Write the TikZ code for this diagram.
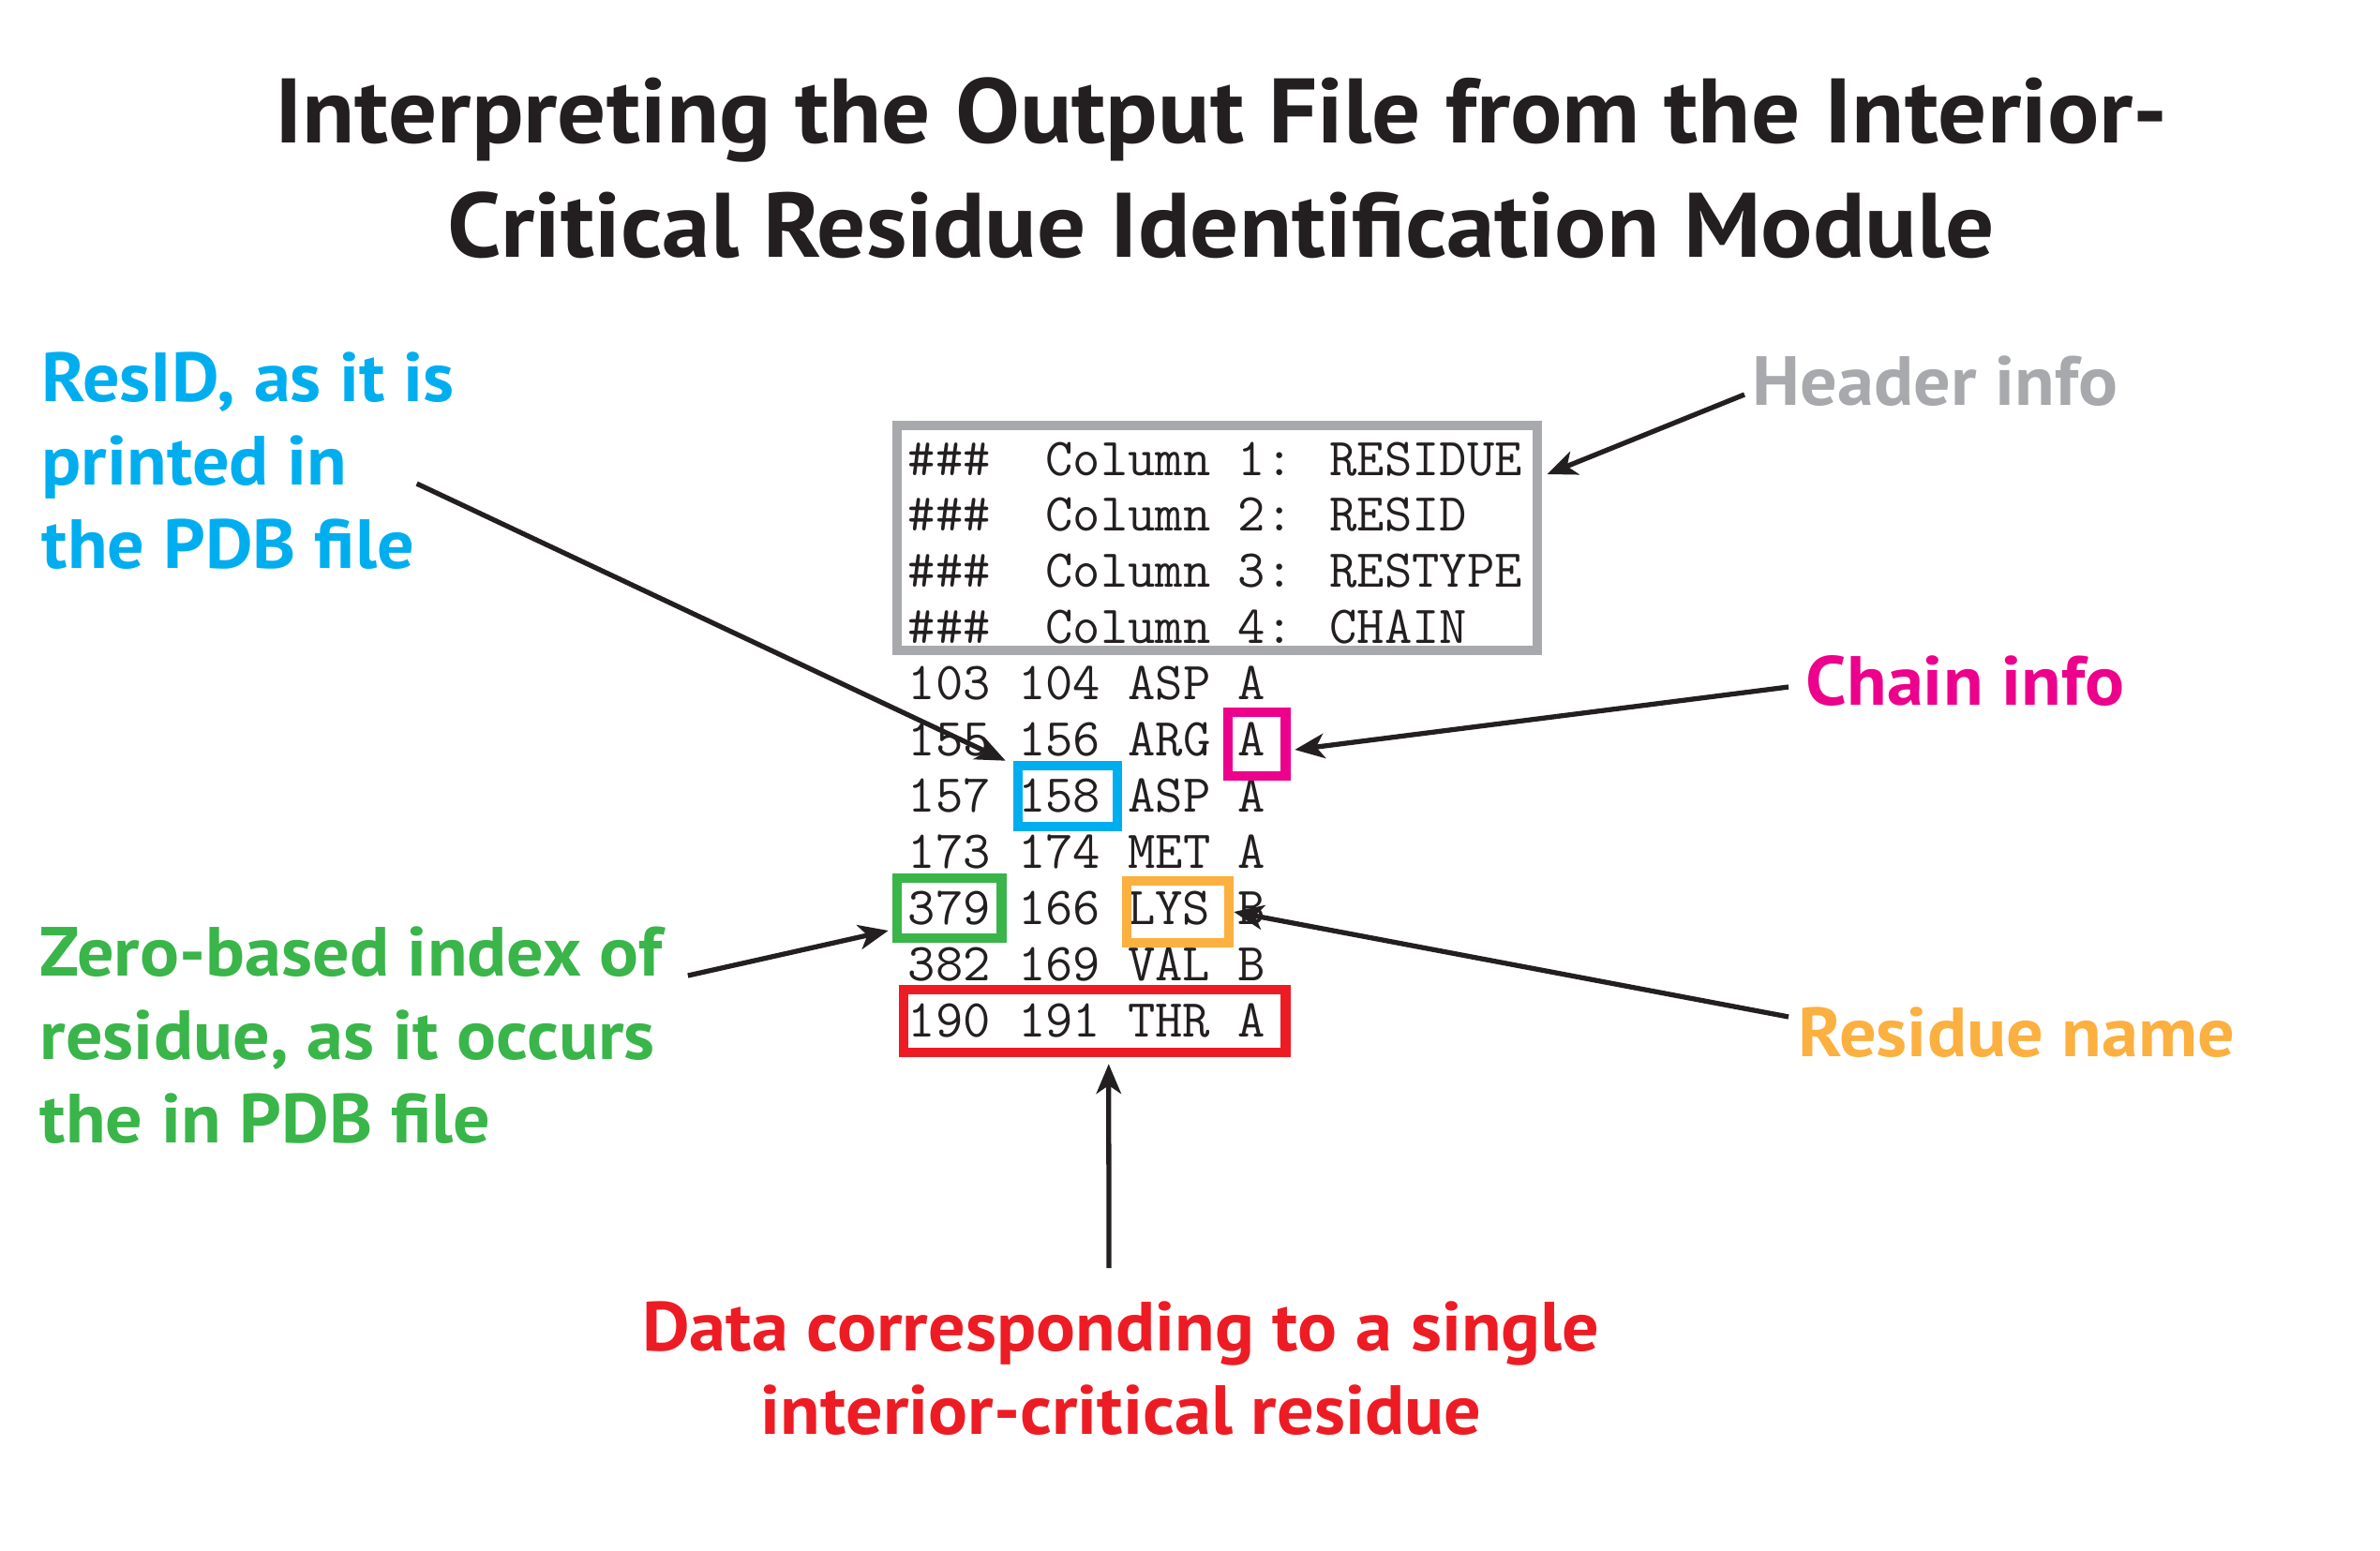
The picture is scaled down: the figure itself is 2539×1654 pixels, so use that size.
\documentclass[tikz,border=0pt]{standalone}
\usepackage{fontspec}
\setsansfont{PT Sans}[FakeStretch=1.055]
\usetikzlibrary{arrows.meta}

\definecolor{inkblack}{RGB}{35,31,32}
\definecolor{hdrgray}{RGB}{167,169,172}
\definecolor{residblue}{RGB}{0,174,239}
\definecolor{chainpink}{RGB}{236,0,140}
\definecolor{indexgreen}{RGB}{57,181,74}
\definecolor{nameorange}{RGB}{251,176,64}
\definecolor{rowred}{RGB}{237,28,36}

\tikzset{
  code/.style={anchor=base west, inner sep=0pt, text=inkblack,
    font=\ttfamily\addfontfeatures{FakeBold=1}\fontsize{16.2}{18}\selectfont},
  hilite/.style={rectangle, draw=#1, line width=3pt, inner sep=0pt},
  lab/.style={inner sep=0pt, text=#1,
    font=\sffamily\bfseries\fontsize{21.1}{25.3}\selectfont},
  pointer/.style={draw=inkblack, line width=1.5pt,
    -{Stealth[length=9pt,width=7.5pt,inset=2.5pt]}},
}

\begin{document}
\begin{tikzpicture}[x=0.01cm,y=-0.01cm]
  \fill[white] (0,0) rectangle (2539,1654);
  \useasboundingbox (0,0) rectangle (2539,1654);

  %%%%% title %%%%%
  \node[inner sep=0pt, anchor=north, align=center, text=inkblack,
    font=\sffamily\bfseries\fontsize{27.8}{34.6}\selectfont] (title) at (1303,82)
    {Interpreting the Output File from the Interior-\\Critical Residue Identification Module};

  %%%%% output file %%%%%
  \foreach \txt [count=\k from 0] in {
      {\#\#\#\ \ Column 1: RESIDUE},
      {\#\#\#\ \ Column 2: RESID},
      {\#\#\#\ \ Column 3: RESTYPE},
      {\#\#\#\ \ Column 4: CHAIN},
      {103 104 ASP A},
      {155 156 ARG A},
      {157 158 ASP A},
      {173 174 MET A},
      {379 166 LYS B},
      {382 169 VAL B},
      {190 191 THR A}}
    \node[code] (line\k) at (968,507+59.9*\k) {\txt};

  %%%%% highlight boxes %%%%%
  \node[hilite=hdrgray, minimum width=6.83cm, minimum height=2.40cm] (boxhead) at (1298.5,574) {};
  \node[hilite=residblue, minimum width=1.06cm, minimum height=0.65cm] (boxresid) at (1139,849.5) {};
  \node[hilite=chainpink, minimum width=0.615cm, minimum height=0.68cm] (boxchain) at (1340.75,794) {};
  \node[hilite=indexgreen, minimum width=1.115cm, minimum height=0.64cm] (boxindex) at (1012.75,969) {};
  \node[hilite=nameorange, minimum width=1.09cm, minimum height=0.66cm] (boxname) at (1256.5,973) {};
  \node[hilite=rowred, minimum width=4.075cm, minimum height=0.67cm] (boxrow) at (1167.75,1089.5) {};

  %%%%% labels %%%%%
  \node[lab=hdrgray, anchor=base west] (labhead) at (1869,432) {Header info};
  \node[lab=chainpink, anchor=base west] (labchain) at (1926,752.5) {Chain info};
  \node[lab=nameorange, anchor=base west] (labname) at (1918,1127) {Residue name};
  \node[lab=residblue, anchor=north west, align=left] (labresid) at (44,375)
    {ResID, as it is\\printed in\\the PDB file};
  \node[lab=indexgreen, anchor=north west, align=left] (labindex) at (42,988)
    {Zero-based index of\\residue, as it occurs\\the in PDB file};
  \node[lab=rowred, anchor=north, align=center] (labrow) at (1196,1388)
    {Data corresponding to a single\\interior-critical residue};

  %%%%% arrows %%%%%
  \draw[pointer] ([shift={(-8,-11)}]labhead.base west) -- ([shift={(5,-68)}]boxhead.east);
  \draw[pointer] ([shift={(-18,-19.5)}]labchain.base west) -- ([shift={(4.5,6)}]boxchain.east);
  \draw[pointer] ([shift={(-10,-42)}]labname.base west) -- (boxname.east);
  \draw[pointer] ([shift={(-41,24.5)}]labresid.east) -- ([shift={(-8,0)}]boxresid.north west);
  \draw[pointer] ([shift={(27,53)}]labindex.north east) -- ([shift={(-4,24)}]boxindex.west);
  \draw[pointer] ([shift={(-13,-35)}]labrow.north) -- ([shift={(15,7)}]boxrow.south);
\end{tikzpicture}
\end{document}
